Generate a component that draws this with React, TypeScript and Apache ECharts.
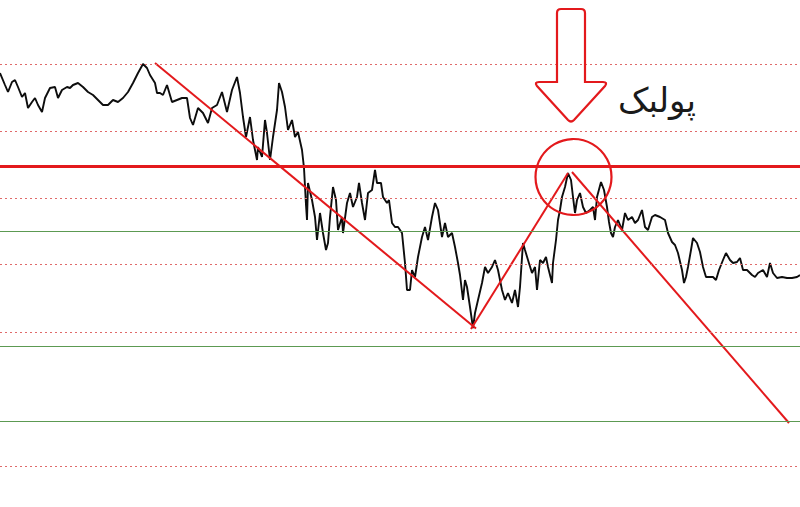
import React, { useEffect, useRef } from "react";
import * as echarts from "echarts";

// bar index (time) and traced price values (price axis runs downward in chart units)
const barIndex = [
  0, 5, 8, 12, 15, 18, 22, 25, 28, 32, 35, 38, 42, 45, 50, 55, 58, 62, 67, 70, 73, 78, 83, 88, 93, 98,
  103, 108, 113, 118, 123, 128, 133, 138, 143, 147, 150, 155, 157, 160, 163, 167, 172, 177, 182, 187,
  190, 193, 198, 203, 208, 212, 217, 222, 227, 232, 237, 240, 243, 246, 248, 250, 253, 257, 258, 262,
  265, 267, 270, 273, 277, 279, 282, 285, 288, 292, 295, 298, 302, 304, 306, 307, 308, 312, 315, 317,
  320, 323, 326, 328, 330, 333, 336, 338, 342, 343, 347, 350, 353, 357, 359, 362, 365, 368, 372, 375,
  377, 381, 383, 387, 389, 392, 395, 398, 402, 405, 407, 410, 412, 415, 418, 422, 425, 428, 432, 435,
  438, 442, 445, 448, 452, 455, 458, 460, 463, 465, 467, 470, 473, 475, 478, 482, 485, 488, 492, 495,
  498, 502, 505, 508, 512, 515, 518, 520, 523, 525, 528, 532, 535, 537, 540, 543, 546, 548, 552, 553,
  556, 558, 560, 562, 565, 568, 571, 573, 575, 577, 580, 583, 586, 590, 593, 595, 597, 601, 604, 607,
  609, 611, 613, 615, 618, 622, 625, 628, 632, 635, 638, 642, 645, 648, 652, 655, 660, 665, 668, 672,
  675, 678, 682, 684, 686, 688, 691, 693, 697, 700, 703, 706, 710, 713, 716, 719, 723, 726, 730, 733,
  737, 740, 743, 747, 752, 755, 758, 763, 767, 770, 773, 777, 782, 787, 792, 797, 800,
];
const closePrice = [
  73, 85, 92, 82, 80, 87, 97, 93, 108, 102, 98, 105, 112, 98, 88, 87, 98, 90, 87, 88, 85, 83, 87, 92, 95, 100,
  105, 105, 100, 102, 98, 92, 83, 73, 64, 68, 75, 83, 93, 93, 95, 85, 102, 100, 98, 98,
  118, 125, 108, 113, 123, 108, 105, 92, 112, 90, 77, 93, 117, 137, 127, 117, 140, 160, 147, 157,
  120, 133, 160, 137, 110, 83, 92, 107, 130, 120, 137, 132, 150, 168, 205, 220, 183, 200, 217, 240,
  213, 233, 250, 243, 217, 187, 200, 230, 217, 233, 203, 193, 207, 197, 183, 203, 220, 193, 190, 170,
  183, 183, 197, 203, 200, 223, 227, 227, 233, 263, 290, 290, 270, 277, 257, 237, 227, 240, 217, 203,
  210, 237, 223, 237, 233, 247, 263, 275, 300, 280, 287, 307, 328, 313, 300, 283, 267, 273, 267, 260,
  270, 290, 300, 293, 303, 290, 307, 287, 243, 250, 260, 273, 267, 290, 260, 263, 257, 267, 283, 263,
  240, 220, 210, 197, 187, 173, 180, 197, 213, 200, 193, 207, 213, 210, 207, 220, 197, 182, 190, 207,
  222, 233, 237, 227, 220, 230, 213, 220, 217, 223, 220, 210, 227, 230, 217, 215, 217, 220, 233, 242,
  245, 253, 270, 283, 277, 267, 250, 238, 243, 252, 267, 277, 277, 277, 280, 270, 260, 253, 260, 263,
  262, 258, 270, 270, 275, 277, 273, 270, 277, 263, 273, 278, 277, 278, 278, 277, 275,
];

// horizontal levels
const dottedLevels = [64, 131, 198, 264.5, 332, 466];
const greenLevels = [231, 346, 421];
const keyLevel = [166.5];

// trend line pivots
const trendDownX = [155, 476];
const trendDownY = [63, 328.5];
const trendUpX = [471, 568];
const trendUpY = [329, 173];
const trendDown2X = [572, 789];
const trendDown2Y = [172, 423];

// annotation anchors
const pullbackCircle = [573.5, 177];
const arrowTip = [571, 122];
const labelAnchor = [657, 100];
const labelText = "پولبک";

const ARROW_D =
  "M -10 -113 L 10 -113 Q 14 -113 14 -109 L 14 -40 L 32 -40 Q 37 -40 34 -36 L 3 -2 Q 0 1 -3 -2 L -34 -36 Q -37 -40 -32 -40 L -14 -40 L -14 -109 Q -14 -113 -10 -113 Z";

let registered = false;

export default function App() {
  const ref = useRef<HTMLDivElement>(null);
  useEffect(() => {
    if (!ref.current) return;
    if (!registered) {
      echarts.graphic.registerShape("arrowShape", echarts.graphic.extendPath(ARROW_D, {}));
      registered = true;
    }
    const chart = echarts.init(ref.current, null, { renderer: "svg" });
    const pairs = (xs: number[], ys: number[]) => xs.map((x, i) => [x, ys[i]]);
    const levelSeries = (vals: number[], color: string, width: number, type: any, name: string) => ({
      name,
      type: "line",
      data: [],
      silent: true,
      markLine: {
        silent: true,
        symbol: ["none", "none"],
        label: { show: false },
        lineStyle: { color, width, type },
        data: vals.map((v) => ({ yAxis: v })),
      },
    });
    chart.setOption({
      animation: false,
      backgroundColor: "#ffffff",
      grid: { left: 0, right: 0, top: 0, bottom: 0 },
      xAxis: { type: "value", min: 0, max: 800, show: false },
      yAxis: { type: "value", min: 0, max: 507, inverse: true, show: false },
      series: [
        levelSeries(dottedLevels, "#e06a6a", 1, [2, 3], "dotted"),
        levelSeries(greenLevels, "#5c9a52", 1, "solid", "green"),
        {
          name: "price",
          type: "line",
          data: pairs(barIndex, closePrice),
          symbol: "none",
          lineStyle: { color: "#0d0d0d", width: 1.9 },
          z: 3,
        },
        levelSeries(keyLevel, "#e3191c", 3, "solid", "key"),
        ...[
          [trendDownX, trendDownY],
          [trendUpX, trendUpY],
          [trendDown2X, trendDown2Y],
        ].map(([xs, ys], i) => ({
          name: "trend" + i,
          type: "line",
          data: pairs(xs, ys),
          symbol: "none",
          lineStyle: { color: "#e3191c", width: 2 },
          z: 4,
        })),
        {
          name: "circle",
          type: "scatter",
          data: [pullbackCircle],
          symbol: "circle",
          symbolSize: 76,
          itemStyle: { color: "rgba(0,0,0,0)", borderColor: "#e3191c", borderWidth: 2.2, opacity: 1 },
          z: 5,
        },
      ],
    });
    const tip = chart.convertToPixel({ gridIndex: 0 }, arrowTip) as number[];
    const lab = chart.convertToPixel({ gridIndex: 0 }, labelAnchor) as number[];
    chart.setOption({
      graphic: [
        {
          type: "arrowShape",
          x: tip[0],
          y: tip[1],
          style: { fill: "none", stroke: "#e3191c", lineWidth: 2.2 },
          z: 10,
        },
        {
          type: "text",
          x: lab[0],
          y: lab[1],
          style: {
            text: labelText,
            fill: "#1a1a1a",
            font: "34px 'DejaVu Sans'",
            align: "center",
            verticalAlign: "middle",
          },
          z: 10,
        },
      ],
    });
    return () => chart.dispose();
  }, []);
  return (
    <div
      ref={ref}
      style={{ position: "absolute", left: 0, top: 0, width: 800, height: 507 }}
    />
  );
}
